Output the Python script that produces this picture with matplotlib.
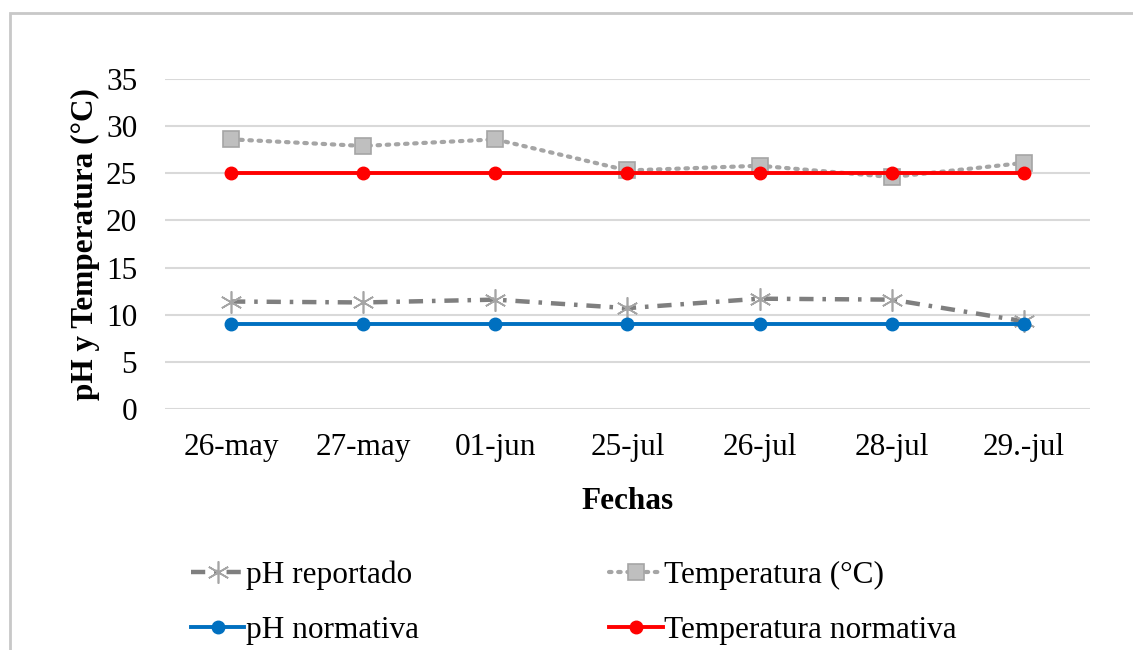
import matplotlib.pyplot as plt
from matplotlib.patches import Rectangle

# Data
fechas = ["26-may", "27-may", "01-jun", "25-jul", "26-jul", "28-jul", "29.-jul"]
ph_reportado = [11.4, 11.3, 11.6, 10.7, 11.7, 11.6, 9.3]
temperatura = [28.6, 27.9, 28.6, 25.3, 25.8, 24.6, 26.1]
ph_normativa = [9, 9, 9, 9, 9, 9, 9]
temp_normativa = [25, 25, 25, 25, 25, 25, 25]

plt.rcParams['font.family'] = ['Liberation Serif', 'DejaVu Serif']

fig = plt.figure(figsize=(11.33, 6.5), dpi=100)
ax = fig.add_axes([165 / 1133, 1 - 409 / 650, (1090 - 165) / 1133, (409 - 79) / 650])

x = list(range(len(fechas)))

l1, = ax.plot(x, ph_reportado, color='#7F7F7F', linewidth=3.2, dashes=(3.2, 2, 0.8, 2),
              marker=(6, 2, 0), markersize=16, markeredgecolor='#A5A5A5', markeredgewidth=1.2,
              label='pH reportado', zorder=3)
l2, = ax.plot(x, temperatura, color='#A5A5A5', linewidth=3, linestyle=(0, (0.6, 1.6)),
              dash_capstyle='round', marker='s', markersize=12, markerfacecolor='#BFBFBF',
              markeredgecolor='#A5A5A5', markeredgewidth=1.2, label='Temperatura (°C)', zorder=3)
l3, = ax.plot(x, ph_normativa, color='#0070C0', linewidth=2.8, marker='o', markersize=9,
              label='pH normativa', zorder=4)
l4, = ax.plot(x, temp_normativa, color='#FF0000', linewidth=2.8, marker='o', markersize=9,
              label='Temperatura normativa', zorder=4)

ax.set_xlim(-0.5, len(fechas) - 0.5)
ax.set_ylim(0, 35)
ax.set_yticks(range(0, 36, 5))
ax.set_xticks(x)
ax.set_xticklabels(fechas)
ax.tick_params(axis='both', length=0, labelsize=22.5)
ax.tick_params(axis='y', pad=20)
ax.tick_params(axis='x', pad=17)
ax.grid(True, axis='y', color='#D9D9D9', linewidth=1.5, zorder=0)
ax.set_axisbelow(True)
for s in ax.spines.values():
    s.set_visible(False)

ax.set_xlabel('Fechas', fontsize=22.5, fontweight='bold', labelpad=18)
ax.set_ylabel('pH y Temperatura (°C)', fontsize=22.5, fontweight='bold', labelpad=4)

fig.legend(handles=[l1, l3, l2, l4], ncol=2, loc='upper left',
           bbox_to_anchor=(163 / 1133, 1 - 532 / 650), frameon=False, fontsize=22.5,
           handlelength=1.7, handletextpad=0.05, columnspacing=6.1, labelspacing=0.85)

# outer chart border
fig.patches.append(Rectangle((10 / 1133, -0.1), 1.2, 1.1 - 13 / 650, transform=fig.transFigure,
                             fill=False, edgecolor='#C8C8C8', linewidth=2, clip_on=False))

fig.savefig('out.png', dpi=100)
